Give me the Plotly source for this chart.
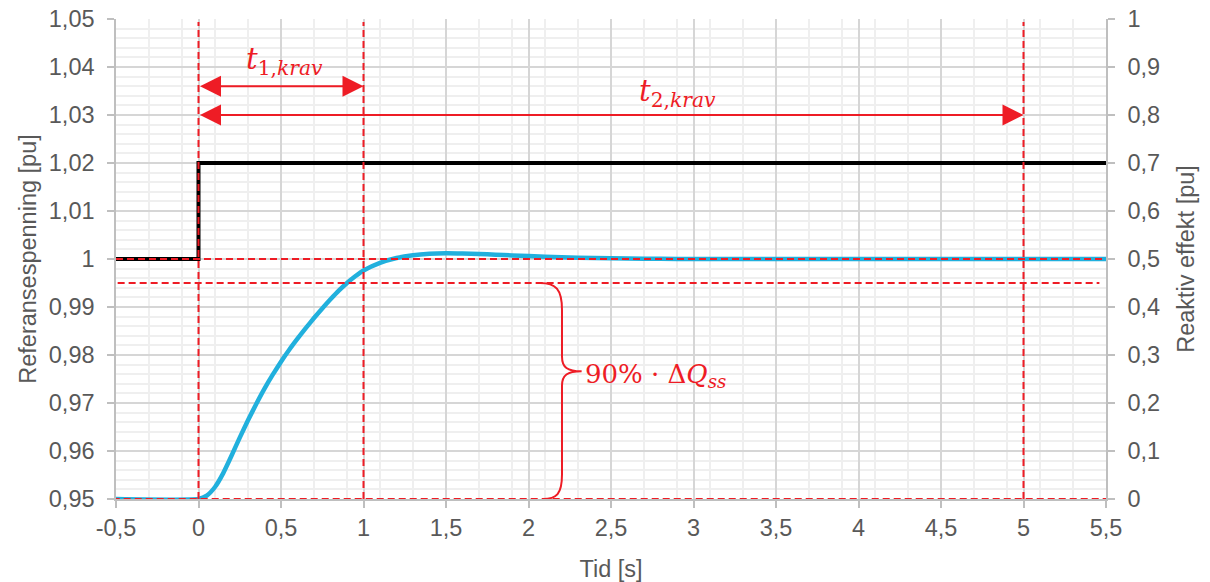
import plotly.graph_objects as go

# ---------------- data ----------------
time_s = [-0.5, 0.0, 0.05, 0.1, 0.15, 0.2, 0.25, 0.3, 0.35, 0.4, 0.45, 0.5, 0.55, 0.6,
          0.65, 0.7, 0.75, 0.8, 0.85, 0.9, 0.95, 1.0, 1.1, 1.2, 1.3, 1.4, 1.5, 1.6,
          1.7, 1.8, 1.9, 2.0, 2.2, 2.4, 2.6, 2.8, 3.0, 5.5]
reactive_pu = [0.0, 0.0, 0.007, 0.025, 0.054, 0.09, 0.128, 0.164, 0.198, 0.23, 0.259,
               0.286, 0.311, 0.334, 0.356, 0.377, 0.397, 0.416, 0.434, 0.45, 0.464,
               0.476, 0.492, 0.502, 0.508, 0.511, 0.512, 0.5115, 0.5105, 0.509, 0.5075,
               0.506, 0.5035, 0.502, 0.501, 0.5004, 0.5, 0.5]

ref_time = [-0.5, 0.0, 5.5]
ref_voltage = [1.00, 1.02, 1.02]

x_tickvals = [-0.5, 0, 0.5, 1, 1.5, 2, 2.5, 3, 3.5, 4, 4.5, 5, 5.5]
x_ticktext = ["-0,5", "0", "0,5", "1", "1,5", "2", "2,5", "3", "3,5", "4", "4,5", "5", "5,5"]
yl_tickvals = [0.95, 0.96, 0.97, 0.98, 0.99, 1.00, 1.01, 1.02, 1.03, 1.04, 1.05]
yl_ticktext = ["0,95", "0,96", "0,97", "0,98", "0,99", "1", "1,01", "1,02", "1,03", "1,04", "1,05"]
yr_tickvals = [0, 0.1, 0.2, 0.3, 0.4, 0.5, 0.6, 0.7, 0.8, 0.9, 1.0]
yr_ticktext = ["0", "0,1", "0,2", "0,3", "0,4", "0,5", "0,6", "0,7", "0,8", "0,9", "1"]

t_step = 0.0          # step instant
t1_krav = 1.0         # t1 requirement
t2_krav = 5.0         # t2 requirement
v_steady = 1.00       # steady-state level (left axis)
v_90pct = 0.995       # 90 % level (left axis)
v_base = 0.95         # initial level (left axis)
t1_arrow_y = 1.036
t2_arrow_y = 1.03

# ---------------- styles ----------------
RED = "#EE1C25"
BLUE = "#21B0DD"
GRAY_TXT = "#595959"
AX_LINE = "#BFBFBF"
MAJOR_GRID = "#D6D6D6"
MINOR_GRID = "#EFEFEF"
FONT = "Liberation Sans, Arial, sans-serif"
MATH_FONT = "DejaVu Serif, serif"

fig = go.Figure()

fig.add_trace(go.Scatter(x=time_s, y=reactive_pu, yaxis="y2", mode="lines",
                         line=dict(color=BLUE, width=4.5, shape="spline", smoothing=0.5),
                         hoverinfo="skip"))
fig.add_trace(go.Scatter(x=ref_time, y=ref_voltage, mode="lines", line_shape="hv",
                         line=dict(color="black", width=4), hoverinfo="skip"))

dash = "7px,4px"
red_line = dict(color=RED, width=2, dash=dash)
# vertical dashed lines
for xv in [t_step, t1_krav, t2_krav]:
    fig.add_shape(type="line", xref="x", yref="y", x0=xv, x1=xv, y0=v_base, y1=1.0494,
                  line=red_line, layer="above")
# horizontal dashed lines
fig.add_shape(type="line", xref="x", yref="y", x0=-0.5, x1=5.5, y0=v_steady, y1=v_steady,
              line=red_line, layer="above")
fig.add_shape(type="line", xref="x", yref="y", x0=-0.49, x1=5.46, y0=v_90pct, y1=v_90pct,
              line=red_line, layer="above")
fig.add_shape(type="line", xref="x", yref="y", x0=-0.52, x1=5.5, y0=v_base, y1=v_base,
              line=red_line, layer="above")

# brace
brace = ("M 2.07,0.995 C 2.165,0.995 2.203,0.9937 2.203,0.9894 "
         "L 2.203,0.9797 C 2.203,0.9774 2.235,0.9766 2.322,0.9766 "
         "C 2.235,0.9766 2.203,0.9758 2.203,0.9736 "
         "L 2.203,0.9551 C 2.203,0.9510 2.17,0.95 2.087,0.95")
fig.add_shape(type="path", xref="x", yref="y", path=brace,
              line=dict(color=RED, width=2), layer="above")

# arrows (double headed)
for x_end, yv in [(t1_krav, t1_arrow_y), (t2_krav, t2_arrow_y)]:
    fig.add_annotation(x=x_end, y=yv, ax=t_step, ay=yv, xref="x", yref="y",
                       axref="x", ayref="y", text="", showarrow=True,
                       arrowhead=2, arrowside="end+start", arrowsize=2.1,
                       arrowwidth=2, arrowcolor=RED, standoff=0, startstandoff=0)

# labels
fig.add_annotation(x=0.52, y=1.0412, xref="x", yref="y", showarrow=False,
                   text="<i>t</i><sub>1,<i>krav</i></sub>",
                   font=dict(family=MATH_FONT, size=29, color=RED))
fig.add_annotation(x=2.9, y=1.0345, xref="x", yref="y", showarrow=False,
                   text="<i>t</i><sub>2,<i>krav</i></sub>",
                   font=dict(family=MATH_FONT, size=29, color=RED))
fig.add_annotation(x=2.33, y=0.9758, xref="x", yref="y", showarrow=False,
                   xanchor="left",
                   text="90% · Δ<i>Q</i><sub><i>ss</i></sub>",
                   font=dict(family=MATH_FONT, size=26, color=RED))

tickfont = dict(family=FONT, size=23.5, color=GRAY_TXT)
titlefont = dict(family=FONT, size=23.5, color=GRAY_TXT)

fig.update_layout(
    width=1210, height=582,
    margin=dict(l=116, r=104, t=19, b=83, autoexpand=False),
    paper_bgcolor="white", plot_bgcolor="white",
    showlegend=False,
    font=dict(family=FONT, color=GRAY_TXT),
    xaxis=dict(range=[-0.5, 5.5], tickmode="array", tickvals=x_tickvals, ticktext=x_ticktext,
               tickfont=tickfont, showgrid=True, gridcolor=MAJOR_GRID, gridwidth=1.5,
               showline=True, linecolor=AX_LINE, linewidth=1.5, automargin=False,
               ticks="outside", ticklen=7, tickcolor=AX_LINE, tickwidth=1.5,
               zeroline=False, ticklabelstandoff=0, ticklabeloverflow="allow",
               minor=dict(tickmode="linear", tick0=-0.5, dtick=0.2, showgrid=True,
                          gridcolor=MINOR_GRID, gridwidth=1.5, ticks=""),
               title=dict(text="Tid [s]", font=titlefont, standoff=22)),
    yaxis=dict(range=[0.95, 1.05], tickmode="array", tickvals=yl_tickvals, ticktext=yl_ticktext,
               tickfont=tickfont, showgrid=True, gridcolor=MAJOR_GRID, gridwidth=1.5,
               showline=True, linecolor=AX_LINE, linewidth=1.5, automargin=False,
               ticks="outside", ticklen=7, tickcolor=AX_LINE, tickwidth=1.5,
               zeroline=False, ticklabelstandoff=8, ticklabeloverflow="allow",
               minor=dict(tickmode="linear", tick0=0.95, dtick=0.002, showgrid=True,
                          gridcolor=MINOR_GRID, gridwidth=1.5, ticks=""),
               title=dict(text="Referansespenning [pu]", font=titlefont, standoff=6)),
    yaxis2=dict(range=[0, 1], overlaying="y", side="right", tickmode="array",
                tickvals=yr_tickvals, ticktext=yr_ticktext, tickfont=tickfont,
                showgrid=False, zeroline=False, showline=True, linecolor=AX_LINE,
                linewidth=1.5, ticks="outside", ticklen=7, tickcolor=AX_LINE, tickwidth=1.5,
                ticklabelstandoff=8, automargin=False, ticklabeloverflow="allow",
                title=dict(text="Reaktiv effekt [pu]", font=titlefont, standoff=18)),
)

# remove the browser's default 8 px body margin so the figure fills the window exactly
fig.write_html("out.html",
               config={"displayModeBar": False},
               post_script="document.body.style.margin='0';document.body.style.padding='0';")
